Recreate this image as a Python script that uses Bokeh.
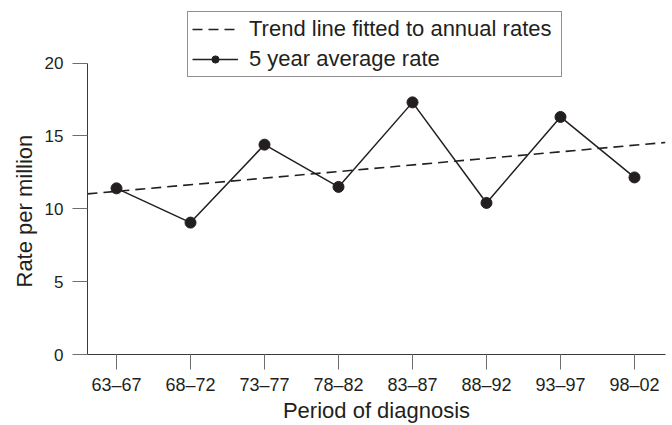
from bokeh.plotting import figure
from bokeh.models import (Range1d, FixedTicker, Legend, LegendItem,
                          ColumnDataSource, Title)
from bokeh.embed import file_html
from bokeh.resources import INLINE

# ---- data ----
periods = ["63–67", "68–72", "73–77", "78–82", "83–87", "88–92", "93–97", "98–02"]
avg_rate = [11.4, 9.05, 14.4, 11.5, 17.3, 10.4, 16.3, 12.15]
trend_x = [0.608, 8.419]
trend_y = [11.02, 14.55]
y_ticks = [0, 5, 10, 15, 20]
legend_labels = ["Trend line fitted to annual rates", "5 year average rate"]
x_title = "Period of diagnosis"
y_title = "Rate per million"

x_pos = list(range(1, len(periods) + 1))

INK = "#231f20"
FONT = "Liberation Sans"
X0, X1 = 0.608, 8.419
Y0, Y1 = 0, 24.29

p = figure(width=672, height=425, output_backend="svg", toolbar_location=None,
           x_range=Range1d(X0, X1), y_range=Range1d(Y0, Y1),
           min_border_left=87, min_border_right=7, min_border_top=0,
           min_border_bottom=70)
p.outline_line_color = None
p.background_fill_color = "white"
p.border_fill_color = "white"
p.xgrid.visible = False
p.ygrid.visible = False

src = ColumnDataSource(dict(x=x_pos, y=avg_rate))
trend_r = p.line(trend_x, trend_y, line_color=INK, line_width=1.6, line_dash="10 6")
line_r = p.line("x", "y", source=src, line_color=INK, line_width=1.5)
pts_r = p.scatter("x", "y", source=src, marker="circle", size=11,
                  fill_color=INK, line_color=INK)

# axes
xa = p.xaxis[0]
xa.ticker = FixedTicker(ticks=x_pos)
xa.major_label_overrides = {i: lab for i, lab in zip(x_pos, periods)}
xa.minor_tick_line_color = None
xa.major_tick_in = 0
xa.major_tick_out = 15
xa.major_tick_line_color = "#6d6e71"
xa.axis_line_color = "#3a3a3a"
xa.major_label_standoff = 5
xa.major_label_text_font = FONT
xa.major_label_text_font_size = "18px"
xa.major_label_text_color = INK
xa.axis_label = x_title
xa.axis_label_text_font = FONT
xa.axis_label_text_font_size = "22px"
xa.axis_label_text_font_style = "normal"
xa.axis_label_text_color = INK
xa.axis_label_standoff = 0

ya = p.yaxis[0]
ya.ticker = FixedTicker(ticks=y_ticks)
ya.bounds = (y_ticks[0], y_ticks[-1])
ya.minor_tick_line_color = None
ya.major_tick_in = 0
ya.major_tick_out = 15
ya.major_tick_line_color = "#6d6e71"
ya.axis_line_color = "#3a3a3a"
ya.major_label_standoff = 9
ya.major_label_text_font = FONT
ya.major_label_text_font_size = "17px"
ya.major_label_text_color = INK

# y title as a side title, positioned along the 0-20 span of the axis
p.add_layout(Title(text=y_title, align="left", offset=67, text_font=FONT,
                   text_font_size="22px", text_font_style="normal",
                   text_color=INK, standoff=9), "left")

legend = Legend(items=[LegendItem(label=legend_labels[0], renderers=[trend_r]),
                       LegendItem(label=legend_labels[1], renderers=[line_r, pts_r])],
                location=(100, 277))
legend.label_text_font = FONT
legend.label_text_font_size = "22px"
legend.label_text_color = INK
legend.glyph_width = 46
legend.glyph_height = 18
legend.label_height = 18
legend.label_width = 308
legend.label_standoff = 11
legend.spacing = 4
legend.padding = 4
legend.margin = 0
legend.border_line_color = INK
legend.border_line_width = 1.2
legend.background_fill_color = "white"
legend.background_fill_alpha = 1
p.add_layout(legend, "center")

open("out.html", "w").write(file_html(p, INLINE))
